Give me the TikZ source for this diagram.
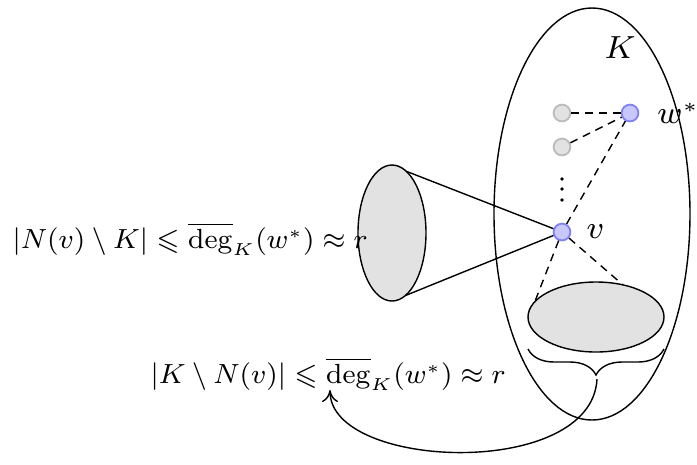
\documentclass[tikz,border=0pt]{standalone}
\usepackage{amsmath,amssymb}
\usepackage{tikz}
\usetikzlibrary{arrows.meta,positioning,calc,decorations.pathreplacing,shapes.geometric}
\definecolor{vblue}{HTML}{C8C8FF}
\definecolor{vedge}{HTML}{8080F8}
\definecolor{gfill}{HTML}{E2E2E2}
\definecolor{gedge}{HTML}{BBBBBB}
\tikzset{
  hub/.style={circle,draw=vedge,fill=vblue,line width=0.45pt,minimum size=4.2pt,inner sep=0pt},
  dim/.style={circle,draw=gedge,fill=gfill,line width=0.45pt,minimum size=4.2pt,inner sep=0pt},
  blob/.style={ellipse,draw,fill=gfill,inner sep=0pt,outer sep=0pt},
  link/.style={dashed,dash pattern=on 2pt off 1.5pt},
  bound/.style={anchor=base west,inner sep=0pt}
}

\begin{document}
\begin{tikzpicture}[x=0.25pt,y=-0.25pt,line width=0.35pt,
    font=\fontsize{7.7}{9}\selectfont]
  \useasboundingbox (0,0) rectangle (697,464);
  % the set K
  \node[ellipse,draw,minimum width=49pt,minimum height=103pt,inner sep=0pt] (clique) at (592,214) {};
  \node (klabel) at (620,48) {$K$};
  % vertices
  \node[hub] (wstar) at (630,113) {};
  \node[right=1pt of wstar] (wlabel) {$w^*$};
  \node[dim] (g1) at (562,113) {};
  \node[dim] (g2) at (562,147) {};
  \foreach \y in {179,189,200}
    \fill (562,\y) circle (0.45pt);
  \node[blob,minimum width=34pt,minimum height=17.5pt] (inner) at (596,317) {};
  \node[blob,minimum width=17pt,minimum height=34pt] (outer) at (392,233) {};
  \draw (outer.77) -- (562,232) coordinate (vpos);
  \draw (outer.-78) -- (vpos);
  \node[hub] (v) at (vpos) {};
  \node[right=0.3pt of v] (vlabel) {$v$};
  \foreach \a in {g1,g2,v}
    \draw[link] (\a) -- (wstar);
  \draw[link] (v) -- (inner.166);
  \draw[link] (v) -- (inner.50);
  % brace under the inner part
  \draw[decorate,decoration={brace,mirror,amplitude=6.5pt}] (528,349) -- (664,349);
  \coordinate (tip) at (597,379);
  \coordinate (degmark) at (330,390);
  % the two bounds
  \node[bound] (nbound) at (12,248)
    {\scalebox{0.865}{$|N(v)\setminus K| \leqslant \overline{\deg}_K(w^*) \approx r$}};
  \node[bound] (kbound) at (150,383)
    {\scalebox{0.865}{$|K\setminus N(v)| \leqslant \overline{\deg}_K(w^*) \approx r$}};
  \draw[-{To[length=3pt,width=4pt]}] (tip) .. controls (592,480) and (330,470) .. (degmark);
\end{tikzpicture}
\end{document}
